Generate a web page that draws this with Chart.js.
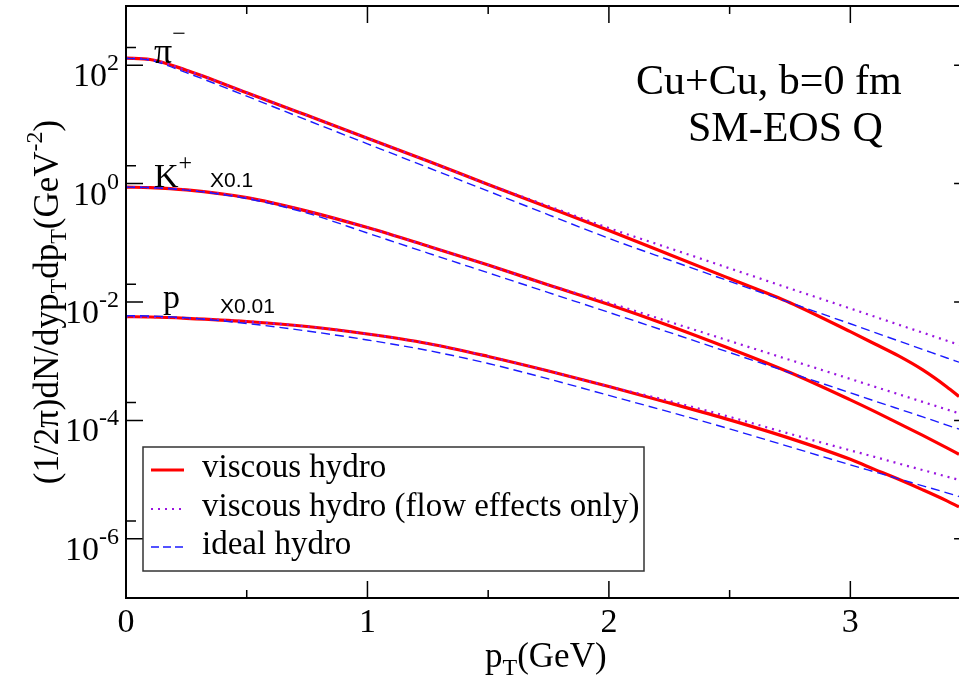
<!DOCTYPE html>
<html lang="en">
<head>
<meta charset="UTF-8">
<title>Cu+Cu pT spectra</title>
<script src="https://cdn.jsdelivr.net/npm/chart.js"></script>
<style>
  body, html { margin: 0; padding: 0; background: #ffffff; }
  #chart { display: block; }
</style>
</head>
<body>
<canvas id="chart" width="959" height="677"></canvas>
<script>
// pT grid (GeV)
const pT = [0, 0.1, 0.25, 0.5, 0.75, 1.0, 1.25, 1.5, 1.75, 2.0, 2.25, 2.5, 2.75, 3.0, 3.1, 3.2, 3.3, 3.4, 3.45];

// pi-
const pionVisc  = [131.3, 124.8, 82.3, 34.35, 14.21, 5.86, 2.398, 0.9694, 0.3965, 0.1609, 0.06358, 0.02492, 0.009732, 0.003153, 0.001970, 0.001226, 0.000711, 0.0003676, 0.0002542];
const pionFlow  = [131.3, 124.8, 82.3, 34.35, 14.21, 5.86, 2.398, 0.9694, 0.4172, 0.1774, 0.08122, 0.03705, 0.01689, 0.007768, 0.005670, 0.004138, 0.003033, 0.002214, 0.001895];
const pionIdeal = [131.3, 121.4, 74.7, 29.99, 11.80, 4.696, 1.870, 0.7469, 0.2974, 0.1189, 0.05116, 0.02236, 0.009732, 0.004286, 0.003068, 0.002197, 0.001579, 0.001134, 0.0009638];

// K+ (x0.1)
const kaonVisc  = [0.8727, 0.8560, 0.7830, 0.5803, 0.3435, 0.1809, 0.08812, 0.04212, 0.01936, 0.009073, 0.003981, 0.001641, 0.0006432, 0.0002218, 0.0001418, 0.00008897, 0.00005582, 0.00003435, 0.00002668];
const kaonFlow  = [0.8727, 0.8560, 0.7830, 0.5803, 0.3435, 0.1809, 0.08812, 0.04212, 0.01936, 0.009694, 0.004632, 0.002197, 0.001050, 0.0005017, 0.0003720, 0.0002768, 0.0002052, 0.0001528, 0.0001318];
const kaonIdeal = [0.8727, 0.8560, 0.7767, 0.5581, 0.3177, 0.1461, 0.06714, 0.03110, 0.01441, 0.006676, 0.003068, 0.001400, 0.0006385, 0.0002922, 0.0002134, 0.0001563, 0.0001146, 0.00008328, 0.00007132];

// p (x0.01)
const protonVisc  = [0.005648, 0.005582, 0.005308, 0.004688, 0.003860, 0.002884, 0.001993, 0.001203, 0.0006844, 0.0003748, 0.0001974, 0.0001020, 0.00004967, 0.00002197, 0.00001489, 0.00001010, 0.000006714, 0.000004379, 0.000003468];
const protonFlow  = [0.005648, 0.005582, 0.005308, 0.004688, 0.003860, 0.002884, 0.001993, 0.001203, 0.0006844, 0.0003748, 0.0002134, 0.0001146, 0.00005920, 0.00003117, 0.00002421, 0.00001866, 0.00001449, 0.00001122, 0.000009904];
const protonIdeal = [0.005872, 0.005803, 0.005410, 0.004336, 0.003240, 0.002284, 0.001519, 0.0009163, 0.0005017, 0.0002642, 0.0001391, 0.00007187, 0.00003570, 0.00001774, 0.00001351, 0.00001030, 0.000007844, 0.000005976, 0.000005175];

// axis ticks (the frame runs to 3.5 GeV, the picture is cut at 3.45)
const xAxisEnd = 3.5;
const xMajor = [0, 1, 2, 3];
const xMinor = [0.5, 1.5, 2.5];
const yMajor = [1e2, 1e0, 1e-2, 1e-4, 1e-6];
const yMinor = [2e2, 2e0, 2e-2, 2e-4, 2e-6];
const yExp = ['2', '0', '-2', '-4', '-6'];

const legendLabels = ['viscous hydro', 'viscous hydro (flow effects only)', 'ideal hydro'];

const SERIF = '"Liberation Serif", "Times New Roman", serif';
const SANS = '"Liberation Sans", Arial, sans-serif';

const RED = '#ff0000';
const PURPLE = '#9a14e0';
const BLUE = '#1a1aff';

function pts(ys) {
    return pT.map((x, i) => ({ x: x, y: ys[i] }));
}

function visc(ys) {
    return { data: pts(ys), borderColor: RED, borderWidth: 3.2, order: 3 };
}
function flow(ys) {
    return { data: pts(ys), borderColor: PURPLE, borderWidth: 2.2, borderDash: [2, 5], order: 2 };
}
function ideal(ys) {
    return { data: pts(ys), borderColor: BLUE, borderWidth: 1.4, borderDash: [9, 5], order: 1 };
}

function drawRich(ctx, x, y, segs) {
    let cx = x;
    segs.forEach(s => {
        ctx.font = s.size + 'px ' + (s.family || SERIF);
        ctx.fillText(s.t, cx, y + (s.dy || 0));
        cx += ctx.measureText(s.t).width;
    });
    return cx;
}

function richWidth(ctx, segs) {
    let w = 0;
    segs.forEach(s => {
        ctx.font = s.size + 'px ' + (s.family || SERIF);
        w += ctx.measureText(s.t).width;
    });
    return w;
}

const decorPlugin = {
    id: 'decor',
    afterDatasetsDraw(chart) {
        const ctx = chart.ctx;
        const a = chart.chartArea;
        const xs = chart.scales.x, ys = chart.scales.y;
        const right = xs.getPixelForValue(xAxisEnd);
        ctx.save();
        ctx.fillStyle = '#000';
        ctx.strokeStyle = '#000';
        ctx.textBaseline = 'alphabetic';

        // frame
        ctx.lineWidth = 2;
        ctx.strokeRect(a.left, a.top, right - a.left, a.bottom - a.top);

        // ticks, pointing inward
        ctx.lineWidth = 1.5;
        ctx.beginPath();
        xMajor.forEach(v => {
            const px = xs.getPixelForValue(v);
            ctx.moveTo(px, a.bottom); ctx.lineTo(px, a.bottom - 17);
            ctx.moveTo(px, a.top); ctx.lineTo(px, a.top + 17);
        });
        xMinor.forEach(v => {
            const px = xs.getPixelForValue(v);
            ctx.moveTo(px, a.bottom); ctx.lineTo(px, a.bottom - 8);
            ctx.moveTo(px, a.top); ctx.lineTo(px, a.top + 8);
        });
        yMajor.forEach(v => {
            const py = ys.getPixelForValue(v);
            ctx.moveTo(a.left, py); ctx.lineTo(a.left + 17, py);
            ctx.moveTo(right, py); ctx.lineTo(right - 17, py);
        });
        yMinor.forEach(v => {
            const py = ys.getPixelForValue(v);
            ctx.moveTo(a.left, py); ctx.lineTo(a.left + 10, py);
            ctx.moveTo(right, py); ctx.lineTo(right - 10, py);
        });
        ctx.stroke();

        // x tick labels
        ctx.font = '34px ' + SERIF;
        ctx.textAlign = 'center';
        xMajor.forEach(v => {
            ctx.fillText(String(v), xs.getPixelForValue(v), 632);
        });
        ctx.textAlign = 'left';

        // y tick labels 10^n
        yMajor.forEach((v, i) => {
            const py = ys.getPixelForValue(v);
            const segs = [{ t: '10', size: 34 }, { t: yExp[i], size: 24, dy: -16 }];
            const w = richWidth(ctx, segs);
            drawRich(ctx, 119 - w, py + 21, segs);
        });

        // axis titles
        drawRich(ctx, 485, 667, [
            { t: 'p', size: 35 }, { t: 'T', size: 24, dy: 8 }, { t: '(GeV)', size: 35 }
        ]);
        const ySegs = [
            { t: '(1/2π)dN/dyp', size: 35 }, { t: 'T', size: 24, dy: 8 },
            { t: 'dp', size: 35 }, { t: 'T', size: 24, dy: 8 },
            { t: '(GeV', size: 35 }, { t: '-2', size: 24, dy: -16 }, { t: ')', size: 35 }
        ];
        ctx.save();
        ctx.translate(58, 302);
        ctx.rotate(-Math.PI / 2);
        drawRich(ctx, -richWidth(ctx, ySegs) / 2, 0, ySegs);
        ctx.restore();

        // species labels
        drawRich(ctx, 154, 63, [{ t: 'π', size: 36 }, { t: '−', size: 24, dy: -22 }]);
        drawRich(ctx, 154, 187, [{ t: 'K', size: 34 }, { t: '+', size: 24, dy: -17 }]);
        drawRich(ctx, 210, 187, [{ t: 'X0.1', size: 21, family: SANS }]);
        drawRich(ctx, 163, 308, [{ t: 'p', size: 34 }]);
        drawRich(ctx, 220, 313, [{ t: 'X0.01', size: 21, family: SANS }]);

        // annotation
        ctx.font = '42px ' + SERIF;
        ctx.fillText('Cu+Cu, b=0 fm', 636, 94);
        ctx.fillText('SM-EOS Q', 688, 141);

        // legend
        ctx.fillStyle = '#fff';
        ctx.fillRect(143, 447, 501, 124);
        ctx.strokeStyle = '#333';
        ctx.lineWidth = 1.5;
        ctx.strokeRect(143, 447, 501, 124);
        const rows = [470, 509, 547];
        const styles = [
            { c: RED, w: 3, d: [] },
            { c: PURPLE, w: 2, d: [2, 5] },
            { c: BLUE, w: 1.4, d: [8, 4] }
        ];
        rows.forEach((ry, i) => {
            ctx.strokeStyle = styles[i].c;
            ctx.lineWidth = styles[i].w;
            ctx.setLineDash(styles[i].d);
            ctx.beginPath();
            ctx.moveTo(151, ry); ctx.lineTo(184, ry);
            ctx.stroke();
            ctx.setLineDash([]);
            ctx.fillStyle = '#000';
            ctx.font = '33px ' + SERIF;
            ctx.fillText(legendLabels[i], 202, ry + 7);
        });

        ctx.restore();
    }
};

const chart = new Chart(document.getElementById('chart'), {
    type: 'line',
    data: {
        datasets: [
            visc(pionVisc), flow(pionFlow), ideal(pionIdeal),
            visc(kaonVisc), flow(kaonFlow), ideal(kaonIdeal),
            visc(protonVisc), flow(protonFlow), ideal(protonIdeal)
        ]
    },
    options: {
        responsive: false,
        animation: false,
        layout: { padding: { left: 126, top: 6, right: 0, bottom: 79 } },
        elements: {
            point: { radius: 0 },
            line: { cubicInterpolationMode: 'monotone', fill: false }
        },
        scales: {
            x: { type: 'linear', min: 0, max: 3.45, display: false },
            y: { type: 'logarithmic', min: 1e-7, max: 1e3, display: false }
        },
        plugins: {
            legend: { display: false },
            tooltip: { enabled: false }
        }
    },
    plugins: [decorPlugin]
});
</script>
</body>
</html>
